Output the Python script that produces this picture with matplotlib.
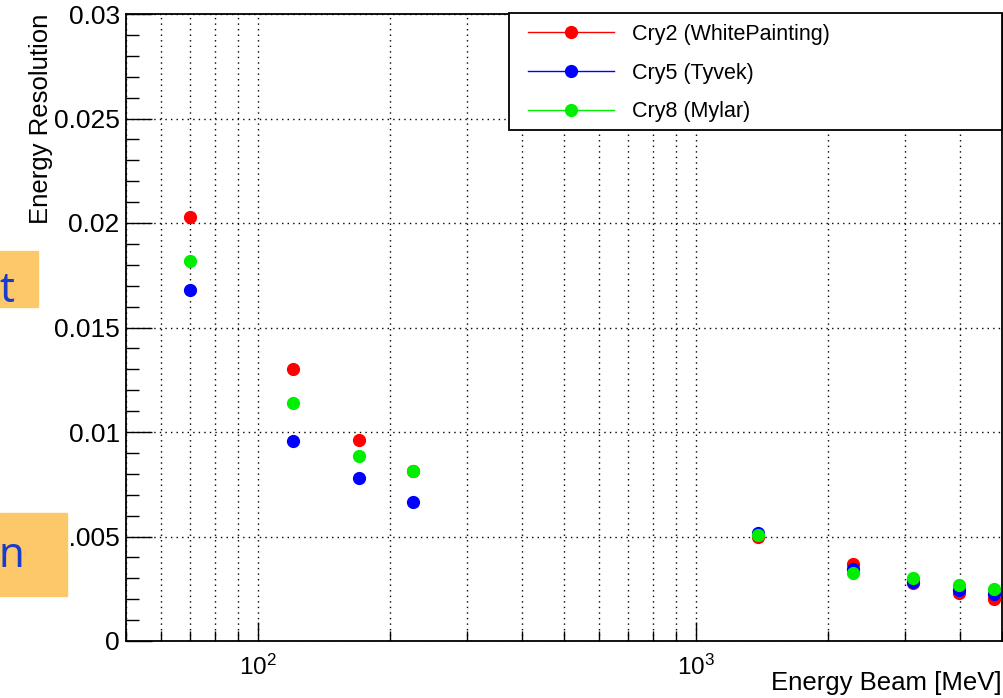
import matplotlib
matplotlib.use('Agg')
import matplotlib.pyplot as plt
from matplotlib.ticker import LogLocator, MultipleLocator, NullFormatter
from matplotlib.patches import Rectangle

# --- data ---
beam_energy = [70, 120, 170, 226, 1385, 2280, 3130, 3980, 4800]  # MeV
res_cry2 = [0.0203, 0.0130, 0.00962, 0.00813, 0.00499, 0.00368, 0.00278, 0.00230, 0.00202]
res_cry5 = [0.0168, 0.00958, 0.00780, 0.00665, 0.00515, 0.00344, 0.00284, 0.00244, 0.00226]
res_cry8 = [0.0182, 0.01137, 0.00885, 0.00813, 0.00506, 0.00324, 0.00303, 0.00268, 0.00249]

labels = ['Cry2 (WhitePainting)', 'Cry5 (Tyvek)', 'Cry8 (Mylar)']
colors = ['#ff0000', '#0000ff', '#00ee00']

plt.rcParams['font.family'] = ['Liberation Sans', 'DejaVu Sans']
plt.rcParams['mathtext.fontset'] = 'custom'
plt.rcParams['mathtext.rm'] = 'Liberation Sans'
plt.rcParams['mathtext.it'] = 'Liberation Sans'

W, H = 1004, 698
fig = plt.figure(figsize=(W / 100, H / 100), dpi=100)
ax = fig.add_axes([126 / W, 57 / H, 876 / W, 627 / H])

for ys, c, lab in zip([res_cry2, res_cry5, res_cry8], colors, labels):
    ax.plot(beam_energy, ys, linestyle='none', marker='o', markersize=8.5,
            color=c, label=lab)

ax.set_xscale('log')
ax.set_xlim(50, 5000)
ax.set_ylim(0, 0.03)

ax.xaxis.set_major_locator(LogLocator(base=10, numticks=10))
ax.xaxis.set_minor_locator(LogLocator(base=10, subs=range(2, 10), numticks=20))
ax.xaxis.set_minor_formatter(NullFormatter())
ax.yaxis.set_minor_locator(MultipleLocator(0.001))
ax.set_yticks([0, 0.005, 0.01, 0.015, 0.02, 0.025, 0.03])
ax.set_yticklabels(['0', '0.005', '0.01', '0.015', '0.02', '0.025', '0.03'])

ax.grid(True, which='major', axis='both', color='black', linestyle=(0, (1, 3)), linewidth=1)
ax.grid(True, which='minor', axis='x', color='black', linestyle=(0, (1, 3)), linewidth=1)

ax.tick_params(axis='both', which='both', direction='in', top=False, right=False,
               colors='black', width=1)
ax.tick_params(axis='y', which='major', length=19, labelsize=19, pad=4.5)
ax.tick_params(axis='y', which='minor', length=9.5)
ax.tick_params(axis='x', which='major', length=14, labelsize=17.5, pad=10)
ax.tick_params(axis='x', which='minor', length=7)
for s in ax.spines.values():
    s.set_linewidth(1.3)

ax.set_xlabel('Energy Beam [MeV]', fontsize=18.5, loc='right')
ax.xaxis.set_label_coords(1, -(683 - 641) / 627)
ax.xaxis.label.set_va('center')
ax.set_ylabel('Energy Resolution', fontsize=18.5, loc='top')
ax.yaxis.set_label_coords(-73 / 876, 1)

# legend: box drawn separately, entries placed inside it
ax.add_patch(Rectangle(((509 - 126) / 876, (641 - 130) / 627), 493 / 876, 117 / 627,
                       transform=ax.transAxes, facecolor='white', edgecolor='black',
                       linewidth=1.3, zorder=4, clip_on=False))
leg = ax.legend(loc='upper left', bbox_to_anchor=((528 - 126) / 876, (641 - 24) / 627),
                borderaxespad=0, frameon=False, fontsize=15.5, handlelength=4.0,
                handletextpad=0.85, labelspacing=0.82, borderpad=0)
leg.set_zorder(5)
for h in leg.get_lines():
    h.set_linestyle('-')
    h.set_linewidth(1)

# cropped slide boxes on the left edge
fig.patches.append(Rectangle((0, 1 - 307 / H), 38 / W, 56 / H,
                             transform=fig.transFigure, color='#fcc86a', zorder=5))
fig.patches.append(Rectangle((0, 1 - 596 / H), 67 / W, 83 / H,
                             transform=fig.transFigure, color='#fcc86a', zorder=5))
fig.text(-1 / W, 1 - 302 / H, 't', color='#1a3ccc', fontsize=30,
         family='Noto Sans', va='baseline', ha='left', zorder=6)
fig.text(-2 / W, 1 - 567 / H, 'n', color='#1a3ccc', fontsize=30,
         family='Noto Sans', va='baseline', ha='left', zorder=6)

fig.savefig('out.png', dpi=100)
